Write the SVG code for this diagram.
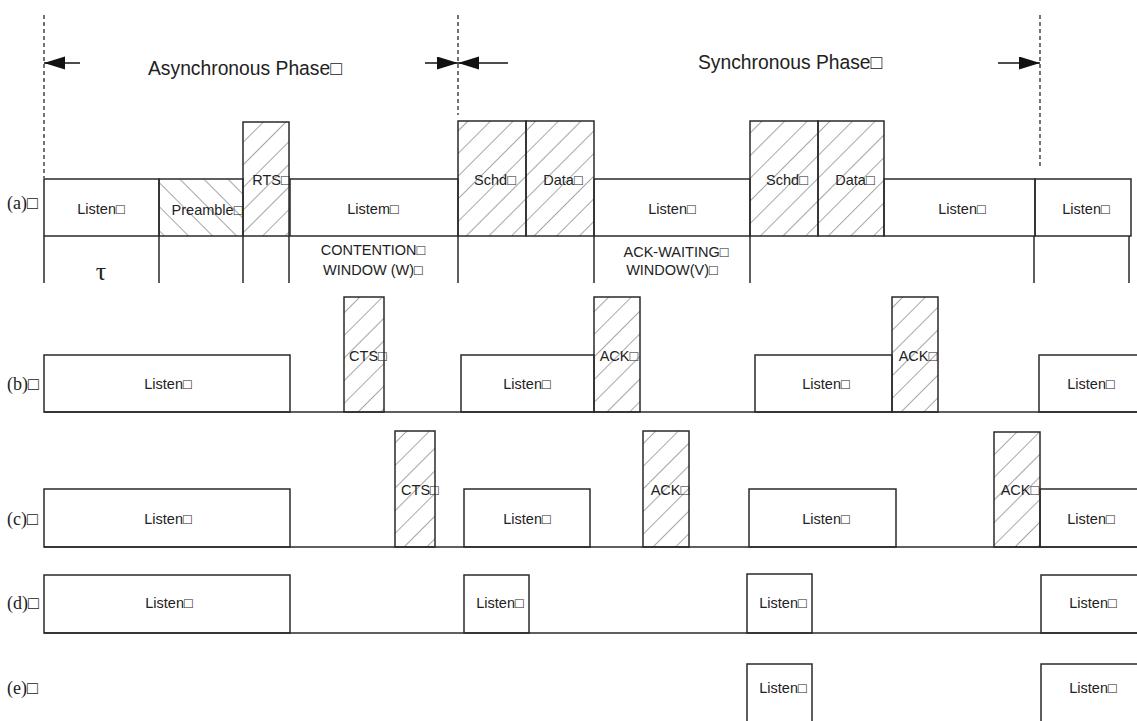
<svg xmlns="http://www.w3.org/2000/svg" width="1137" height="721" viewBox="0 0 1137 721">
<defs>
<style>
.bx{fill:none;stroke:#2a2a2a;stroke-width:1.5}
.hf{fill:url(#hatchF);stroke:#2a2a2a;stroke-width:1.5}
.hb{fill:url(#hatchB);stroke:#2a2a2a;stroke-width:1.5}
.ln{fill:none;stroke:#2a2a2a;stroke-width:1.5}
.dash{fill:none;stroke:#2a2a2a;stroke-width:1.3;stroke-dasharray:4 3}
.arr{fill:none;stroke:#111;stroke-width:1.5}
.t{font-family:"Liberation Sans",Arial,sans-serif;font-size:14.5px;fill:#222;text-anchor:middle}
.big{font-family:"Liberation Sans",Arial,sans-serif;font-size:19.3px;fill:#222}
.lab{font-family:"Liberation Serif","Times New Roman",serif;font-size:18px;fill:#222}
</style>
<pattern id="hatchF" patternUnits="userSpaceOnUse" width="16" height="16" patternTransform="rotate(45)">
<line x1="0" y1="0" x2="0" y2="16" stroke="#222" stroke-width="0.8"/>
</pattern>
<pattern id="hatchB" patternUnits="userSpaceOnUse" width="17" height="17" patternTransform="rotate(-45)">
<line x1="0" y1="0" x2="0" y2="17" stroke="#222" stroke-width="0.8"/>
</pattern>
<marker id="ah" markerUnits="userSpaceOnUse" markerWidth="22" markerHeight="14" refX="21" refY="6.5" orient="auto">
<path d="M0,0 L21,6.5 L0,13 Z" fill="#111"/>
</marker>
</defs>
<rect width="1137" height="721" fill="#fff"/>

<g id="connectors">
<line class="dash" x1="44" y1="15" x2="44" y2="178"/>
<line class="dash" x1="458" y1="15" x2="458" y2="115"/>
<line class="dash" x1="1040" y1="15" x2="1040" y2="167"/>
<line class="arr" x1="80" y1="63" x2="44" y2="63" marker-end="url(#ah)"/>
<line class="arr" x1="425" y1="63" x2="458" y2="63" marker-end="url(#ah)"/>
<line class="arr" x1="508" y1="63" x2="458" y2="63" marker-end="url(#ah)"/>
<line class="arr" x1="998" y1="63" x2="1040" y2="63" marker-end="url(#ah)"/>
</g>

<g id="phase-labels">
<text class="big" x="148" y="75">Asynchronous Phase□</text>
<text class="big" x="698" y="69">Synchronous Phase□</text>
</g>

<g id="row-labels">
<text class="lab" x="7" y="209">(a)□</text>
<text class="lab" x="7" y="390">(b)□</text>
<text class="lab" x="7" y="525">(c)□</text>
<text class="lab" x="7" y="609">(d)□</text>
<text class="lab" x="7" y="694">(e)□</text>
</g>

<g id="row-a">
<g id="a-listen1"><rect class="bx" x="44" y="179" width="115" height="57"/><text class="t" x="101" y="214">Listen□</text></g>
<g id="a-preamble"><rect class="hb" x="159" y="179" width="84" height="57"/><text class="t" x="207" y="215">Preamble□</text></g>
<g id="a-rts"><rect class="hf" x="243" y="122" width="46" height="114"/><text class="t" x="271" y="185">RTS□</text></g>
<g id="a-listem"><rect class="bx" x="290" y="179" width="168" height="57"/><text class="t" x="373" y="214">Listem□</text></g>
<g id="a-schd1"><rect class="hf" x="458" y="121" width="68" height="115"/><text class="t" x="495" y="185">Schd□</text></g>
<g id="a-data1"><rect class="hf" x="526" y="121" width="68" height="115"/><text class="t" x="563" y="185">Data□</text></g>
<g id="a-listen2"><rect class="bx" x="594" y="179" width="156" height="57"/><text class="t" x="672" y="214">Listen□</text></g>
<g id="a-schd2"><rect class="hf" x="750" y="121" width="68" height="115"/><text class="t" x="787" y="185">Schd□</text></g>
<g id="a-data2"><rect class="hf" x="818" y="121" width="66" height="115"/><text class="t" x="855" y="185">Data□</text></g>
<g id="a-listen3"><rect class="bx" x="884" y="179" width="151" height="57"/><text class="t" x="962" y="214">Listen□</text></g>
<g id="a-listen4"><rect class="bx" x="1035" y="179" width="96" height="57"/><text class="t" x="1086" y="214">Listen□</text></g>
<g id="a-ticks">
<path class="ln" d="M44,236 V283 M159,236 V283 M243,236 V283 M289,236 V283 M458,236 V283 M594,236 V283 M750,236 V283 M1034,236 V283 M1129,236 V283"/>
</g>
<g id="a-tau"><text class="lab" x="101" y="280" style="font-size:26px;text-anchor:middle">τ</text></g>
<g id="a-contention"><text class="t" x="373" y="255">CONTENTION□</text><text class="t" x="373" y="275">WINDOW (W)□</text></g>
<g id="a-ackwait"><text class="t" x="676" y="257">ACK-WAITING□</text><text class="t" x="672" y="275">WINDOW(V)□</text></g>
</g>

<g id="row-b">
<line class="ln" x1="44" y1="412" x2="1140" y2="412"/>
<g id="b-listen1"><rect class="bx" x="44" y="355" width="246" height="57"/><text class="t" x="168" y="389">Listen□</text></g>
<g id="b-cts"><rect class="hf" x="344" y="297" width="40" height="115"/><text class="t" x="368" y="361">CTS□</text></g>
<g id="b-listen2"><rect class="bx" x="461" y="355" width="133" height="57"/><text class="t" x="527" y="389">Listen□</text></g>
<g id="b-ack1"><rect class="hf" x="594" y="297" width="46" height="115"/><text class="t" x="619" y="361">ACK□</text></g>
<g id="b-listen3"><rect class="bx" x="755" y="355" width="137" height="57"/><text class="t" x="826" y="389">Listen□</text></g>
<g id="b-ack2"><rect class="hf" x="892" y="297" width="46" height="115"/><text class="t" x="918" y="361">ACK□</text></g>
<g id="b-listen4"><rect class="bx" x="1039" y="355" width="110" height="57"/><text class="t" x="1091" y="389">Listen□</text></g>
</g>

<g id="row-c">
<line class="ln" x1="44" y1="547" x2="1140" y2="547"/>
<g id="c-listen1"><rect class="bx" x="44" y="489" width="246" height="58"/><text class="t" x="168" y="524">Listen□</text></g>
<g id="c-cts"><rect class="hf" x="395" y="431" width="40" height="116"/><text class="t" x="420" y="495">CTS□</text></g>
<g id="c-listen2"><rect class="bx" x="464" y="489" width="126" height="58"/><text class="t" x="527" y="524">Listen□</text></g>
<g id="c-ack1"><rect class="hf" x="643" y="431" width="46" height="116"/><text class="t" x="670" y="495">ACK□</text></g>
<g id="c-listen3"><rect class="bx" x="749" y="489" width="147" height="58"/><text class="t" x="826" y="524">Listen□</text></g>
<g id="c-ack2"><rect class="hf" x="994" y="432" width="46" height="115"/><text class="t" x="1020" y="495">ACK□</text></g>
<g id="c-listen4"><rect class="bx" x="1040" y="489" width="110" height="58"/><text class="t" x="1091" y="524">Listen□</text></g>
</g>

<g id="row-d">
<line class="ln" x1="44" y1="633" x2="1140" y2="633"/>
<g id="d-listen1"><rect class="bx" x="44" y="575" width="246" height="58"/><text class="t" x="169" y="608">Listen□</text></g>
<g id="d-listen2"><rect class="bx" x="464" y="575" width="65" height="58"/><text class="t" x="500" y="608">Listen□</text></g>
<g id="d-listen3"><rect class="bx" x="747" y="574" width="65" height="59"/><text class="t" x="783" y="608">Listen□</text></g>
<g id="d-listen4"><rect class="bx" x="1041" y="575" width="110" height="58"/><text class="t" x="1093" y="608">Listen□</text></g>
</g>

<g id="row-e">
<g id="e-listen1"><path class="bx" d="M747,725 V664 H812 V725"/><text class="t" x="783" y="693">Listen□</text></g>
<g id="e-listen2"><path class="bx" d="M1041,725 V664 H1150"/><text class="t" x="1093" y="693">Listen□</text></g>
</g>
</svg>
